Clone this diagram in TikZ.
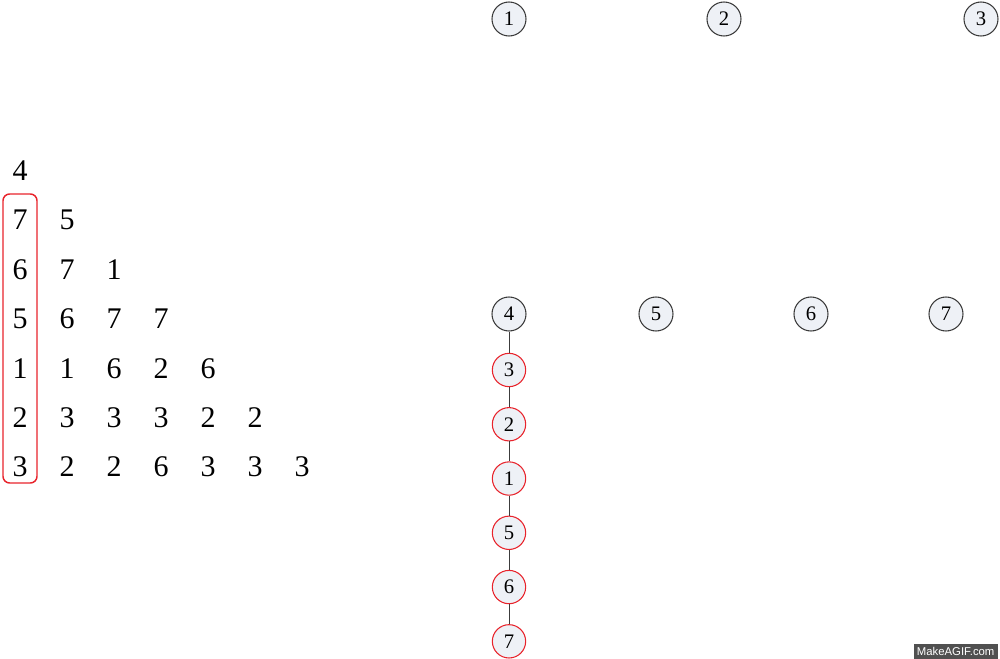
\documentclass[tikz,border=0pt]{standalone}
\usepackage{fontspec}
\setmainfont{Liberation Serif}
\newfontfamily\gifsans{Liberation Sans}
\usetikzlibrary{positioning}
\definecolor{ballfill}{HTML}{EEF1F6}
\definecolor{balledge}{HTML}{3C3C3C}
\definecolor{selred}{HTML}{E8232B}
\definecolor{gifgray}{HTML}{505050}
\tikzset{
	ball/.style={circle, draw=balledge, fill=ballfill, line width=0.8pt,
		minimum size=25.5pt, inner sep=0pt, font=\fontsize{15.5}{15.5}\selectfont},
	redball/.style={ball, draw=selred, minimum size=25pt},
	cell/.style={font=\fontsize{22.5}{22.5}\selectfont, inner sep=2pt},
	selbox/.style={draw=selred, line width=1.1pt, rounded corners=5pt},
	link/.style={draw=balledge, line width=0.75pt}
}

\begin{document}
\begin{tikzpicture}[x=0.75pt, y=-0.75pt, node distance=40.7pt, on grid]
			\useasboundingbox (0,0) rectangle (1000,659);
			% number rows
			\node[cell] (r0c0) at (20,171) {4};
			\node[cell] (r1c0) at (20,220) {7}; \node[cell] (r1c1) at (67,220) {5};
			\node[cell] (r2c0) at (20,270) {6}; \node[cell] (r2c1) at (67,270) {7}; \node[cell] (r2c2) at (114,270) {1};
			\node[cell] (r3c0) at (20,319) {5}; \node[cell] (r3c1) at (67,319) {6}; \node[cell] (r3c2) at (114,319) {7};
			\node[cell] (r3c3) at (161,319) {7};
			\node[cell] (r4c0) at (20,369) {1}; \node[cell] (r4c1) at (67,369) {1}; \node[cell] (r4c2) at (114,369) {6};
			\node[cell] (r4c3) at (161,369) {2}; \node[cell] (r4c4) at (208,369) {6};
			\node[cell] (r5c0) at (20,418) {2}; \node[cell] (r5c1) at (67,418) {3}; \node[cell] (r5c2) at (114,418) {3};
			\node[cell] (r5c3) at (161,418) {3}; \node[cell] (r5c4) at (208,418) {2}; \node[cell] (r5c5) at (255,418) {2};
			\node[cell] (r6c0) at (20,467) {3}; \node[cell] (r6c1) at (67,467) {2}; \node[cell] (r6c2) at (114,467) {2};
			\node[cell] (r6c3) at (161,467) {6}; \node[cell] (r6c4) at (208,467) {3}; \node[cell] (r6c5) at (255,467) {3};
			\node[cell] (r6c6) at (302,467) {3};
			\draw[selbox] (3,194) rectangle (37,483);
			% vertices
			\node[ball] (t1) at (509,19) {1};
			\node[ball] (t2) at (724,19) {2};
			\node[ball] (t3) at (981,19) {3};
			\node[ball] (b4) at (509,314) {4};
			\node[ball] (b5) at (656,314) {5};
			\node[ball] (b6) at (811,314) {6};
			\node[ball] (b7) at (946,314) {7};
			\node[redball, below=42pt of b4] (c3) {3};
			\node[redball, below=of c3] (c2) {2};
			\node[redball, below=of c2] (c1) {1};
			\node[redball, below=of c1] (c5) {5};
			\node[redball, below=of c5] (c6) {6};
			\node[redball, below=of c6] (c7) {7};
			\draw[link] (b4)--(c3)--(c2)--(c1)--(c5)--(c6)--(c7);
			\node[fill=gifgray, text=white, font=\gifsans\fontsize{8.5}{9}\selectfont,
				inner sep=2.5pt, anchor=south east] (logo) at (998,659) {MakeAGIF.com};
		\end{tikzpicture}
\end{document}
